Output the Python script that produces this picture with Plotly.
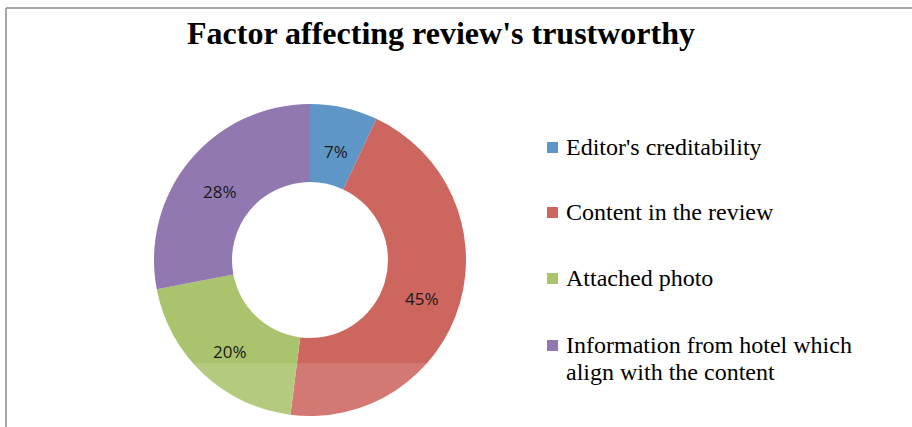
import numpy as np
import plotly.graph_objects as go

# Survey data
labels = ["Editor's creditability", "Content in the review", "Attached photo",
          "Information from hotel which align with the content"]
legend_lines = [["Editor's creditability"], ["Content in the review"], ["Attached photo"],
                ["Information from hotel which", "align with the content"]]
values = [7, 45, 20, 28]
colors = ["#5F96C8", "#CD665F", "#AAC36D", "#9178B0"]

W, H = 912, 427
CX, CY, R_OUT = 310, 260, 156   # ring centre and outer radius, in pixels
HOLE = 0.5

def px(x):
    return x / W

def py(y):
    return 1 - y / H

fig = go.Figure(go.Pie(
    labels=labels,
    values=values,
    hole=HOLE,
    sort=False,
    direction="clockwise",
    rotation=0,
    marker=dict(colors=colors, line=dict(width=0)),
    textinfo="none",
    domain=dict(x=[px(CX - R_OUT), px(CX + R_OUT)], y=[py(CY + R_OUT), py(CY - R_OUT)]),
    showlegend=False,
    hoverinfo="label+percent",
))

shapes = [
    # frame: left and top edges
    dict(type="line", xref="paper", yref="paper", x0=px(6), x1=px(6), y0=py(8), y1=py(H + 2),
         line=dict(color="#8a8a8a", width=1.5)),
    dict(type="line", xref="paper", yref="paper", x0=px(6), x1=px(W + 2), y0=py(8), y1=py(8),
         line=dict(color="#8a8a8a", width=1.5)),
    # light sheen over the lower part of the ring
    dict(type="rect", xref="paper", yref="paper", x0=px(150), x1=px(470), y0=py(H), y1=py(363),
         fillcolor="rgba(255,255,255,0.12)", line=dict(width=0), layer="above"),
]

annotations = [
    dict(text="<b>Factor affecting review's trustworthy</b>", x=px(441), y=py(33),
         xref="paper", yref="paper", xanchor="center", yanchor="middle", showarrow=False,
         font=dict(family="Liberation Serif, Times New Roman, serif", size=32, color="#000000")),
]

# percentage labels at the middle of each ring segment
vals = np.array(values, dtype=float)
shares = vals / vals.sum()
mid = (np.cumsum(shares) - shares / 2) * 2 * np.pi
r_mid = R_OUT * (1 + HOLE) / 2
for s, a in zip(shares, mid):
    lx = CX + r_mid * np.sin(a)
    ly = CY - r_mid * np.cos(a) + 6
    annotations.append(dict(text=f"{s:.0%}", x=px(lx), y=py(ly), xref="paper", yref="paper",
                            xanchor="center", yanchor="middle", showarrow=False,
                            font=dict(family="Open Sans, sans-serif", size=17, color="#1a1a1a")))

# legend entries
legend_y = [147, 212, 278, 345]
for lines, col, ly in zip(legend_lines, colors, legend_y):
    shapes.append(dict(type="rect", xref="paper", yref="paper",
                       x0=px(547), x1=px(558), y0=py(ly + 6), y1=py(ly - 5),
                       fillcolor=col, line=dict(width=0)))
    for i, txt in enumerate(lines):
        annotations.append(dict(text=txt, x=px(564), y=py(ly + 27 * i), xref="paper", yref="paper",
                                xanchor="left", yanchor="middle", align="left", showarrow=False,
                                font=dict(family="Liberation Serif, Times New Roman, serif",
                                          size=24, color="#000000")))

fig.update_layout(
    width=W, height=H,
    margin=dict(l=0, r=0, t=0, b=0),
    paper_bgcolor="white",
    plot_bgcolor="white",
    shapes=shapes,
    annotations=annotations,
)

fig.write_html("out.html")
